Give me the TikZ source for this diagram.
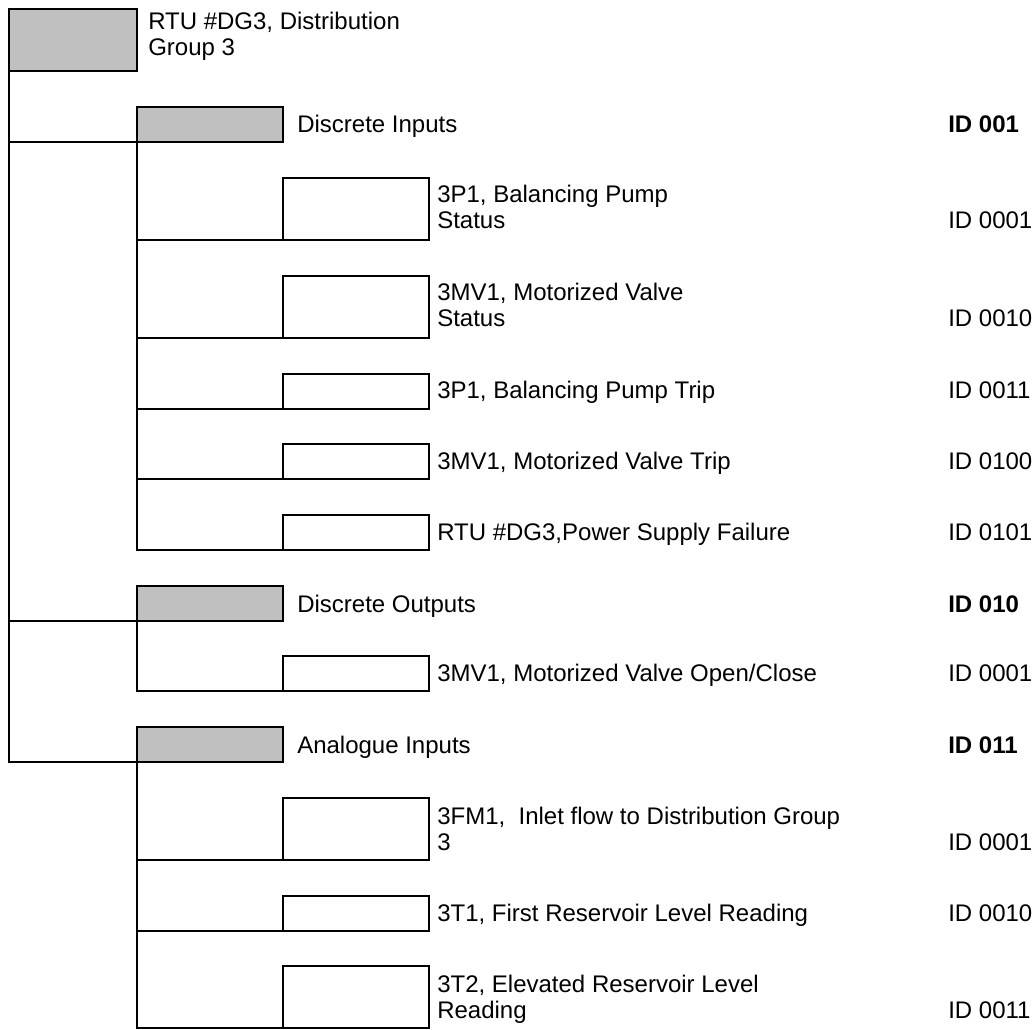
\documentclass[tikz,border=0pt]{standalone}
\usepackage{fontspec}
\setmainfont{Liberation Sans}
\usetikzlibrary{positioning}
\definecolor{rtuGray}{HTML}{C0C0C0}
\tikzset{
    % boxes of the tree
    grpbox/.style={rectangle,draw=black,fill=rtuGray,line width=1.5pt,inner sep=0pt,outer sep=0pt,anchor=north west,minimum width=109.5pt,minimum height=26.25pt},
    leafbox/.style={rectangle,draw=black,fill=white,line width=1.5pt,inner sep=0pt,outer sep=0pt,anchor=north west,minimum width=109.5pt,minimum height=26.25pt},
    tallbox/.style={leafbox,minimum height=46.5pt},
    % texts (base of the last line sits on the given point)
    lbl/.style={anchor=base west,inner sep=0pt,align=left,font=\fontsize{18pt}{19.5pt}\selectfont},
    idlbl/.style={lbl},
    idhead/.style={lbl,font=\fontsize{18pt}{19.5pt}\selectfont\bfseries},
    link/.style={draw=black,line width=1.5pt}
}

\begin{document}
\begin{tikzpicture}[x=0.75pt,y=-0.75pt]
    \useasboundingbox (0,0) rectangle (1035,1030);

    % RTU
    \node[grpbox,minimum width=96pt,minimum height=46.5pt] (rtu) at (9,9) {};
    \node[lbl] (rtutxt) at (148,56) {RTU \#DG3, Distribution\\Group 3};

    % Discrete inputs
    \node[grpbox] (di) at (137,107) {};
    \node[lbl] (ditxt) at (297,133) {Discrete Inputs};
    \node[idhead] (diid) at (948,133) {ID 001};

    \node[tallbox] (di1) at (283,178) {};
    \node[lbl] (di1txt) at (437,229) {3P1, Balancing Pump\\Status};
    \node[idlbl] (di1id) at (948,229) {ID 0001};

    \node[tallbox] (di2) at (283,276) {};
    \node[lbl] (di2txt) at (437,327) {3MV1, Motorized Valve\\Status};
    \node[idlbl] (di2id) at (948,327) {ID 0010};

    \node[leafbox] (di3) at (283,374) {};
    \node[lbl] (di3txt) at (437,399) {3P1, Balancing Pump Trip};
    \node[idlbl] (di3id) at (948,399) {ID 0011};

    \node[leafbox] (di4) at (283,444) {};
    \node[lbl] (di4txt) at (437,469) {3MV1, Motorized Valve Trip};
    \node[idlbl] (di4id) at (948,469) {ID 0100};

    \node[leafbox] (di5) at (283,515) {};
    \node[lbl] (di5txt) at (437,540) {RTU \#DG3,Power Supply Failure};
    \node[idlbl] (di5id) at (948,540) {ID 0101};

    % Discrete outputs
    \node[grpbox] (do) at (137,586) {};
    \node[lbl] (dotxt) at (297,612) {Discrete Outputs};
    \node[idhead] (doid) at (948,612) {ID 010};

    \node[leafbox] (do1) at (283,656) {};
    \node[lbl] (do1txt) at (437,681) {3MV1, Motorized Valve Open/Close};
    \node[idlbl] (do1id) at (948,681) {ID 0001};

    % Analogue inputs
    \node[grpbox] (ai) at (137,727) {};
    \node[lbl] (aitxt) at (297,753) {Analogue Inputs};
    \node[idhead] (aiid) at (948,753) {ID 011};

    \node[tallbox] (ai1) at (283,798) {};
    \node[lbl] (ai1txt) at (437,850) {3FM1,~ Inlet flow to Distribution Group\\3};
    \node[idlbl] (ai1id) at (948,850) {ID 0001};

    \node[leafbox] (ai2) at (283,896) {};
    \node[lbl] (ai2txt) at (437,921) {3T1, First Reservoir Level Reading};
    \node[idlbl] (ai2id) at (948,921) {ID 0010};

    \node[tallbox] (ai3) at (283,966) {};
    \node[lbl] (ai3txt) at (437,1018) {3T2, Elevated Reservoir Level\\Reading};
    \node[idlbl] (ai3id) at (948,1018) {ID 0011};

    % tree lines
    \foreach \grp in {di,do,ai}
        \draw[link] (rtu.south west) |- (\grp.south west);
    \foreach \leaf in {di1,di2,di3,di4,di5}
        \draw[link] (di.south west) |- (\leaf.south west);
    \draw[link] (do.south west) |- (do1.south west);
    \foreach \leaf in {ai1,ai2,ai3}
        \draw[link] (ai.south west) |- (\leaf.south west);
\end{tikzpicture}
\end{document}
